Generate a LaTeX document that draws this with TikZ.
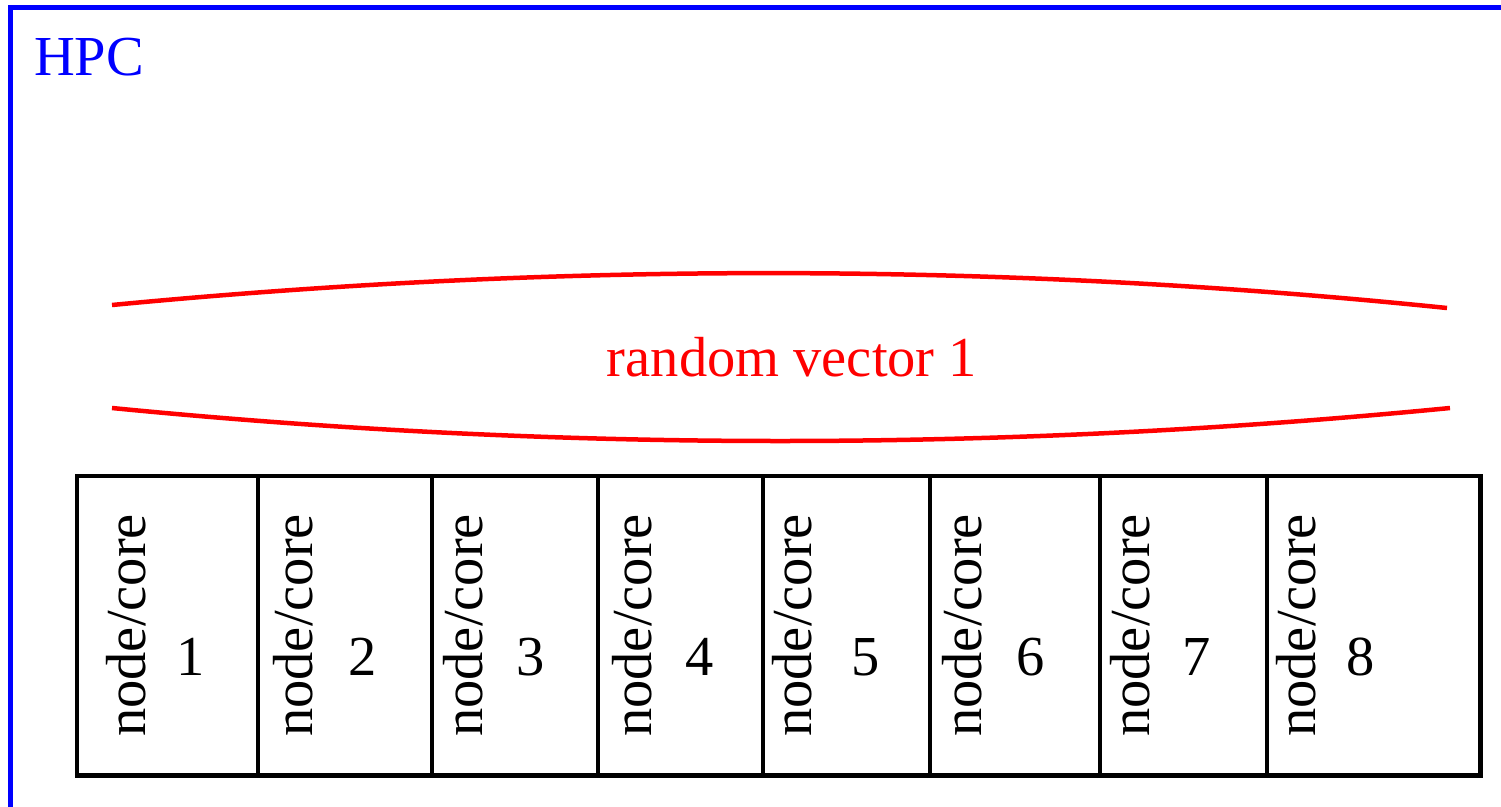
\documentclass[tikz,border=0pt]{standalone}
\usepackage{fontspec}
\setmainfont{Liberation Serif}
\begin{document}
\begin{tikzpicture}[x=1pt,y=-1pt,
  lbl/.style={inner sep=0pt, font=\fontsize{56.5}{68}\selectfont},
  frame/.style={draw=blue, line width=4.5pt},
  brace/.style={draw=red, line width=4.5pt},
  cellline/.style={draw=black, line width=4.5pt}]
\useasboundingbox (0,0) rectangle (1501,806);
\clip (0,0) rectangle (1501,806);

% outer HPC frame (runs past the right and bottom edges)
\draw[frame] (10.5,840) -- (10.5,7.5) -- (1540,7.5);
\node[lbl, text=blue, anchor=base west] (hpc) at (34,75) {HPC};

% random vector lens
\draw[brace] (112,305) .. controls (560,262) and (1000,262) .. (1447,308);
\draw[brace] (112,408) .. controls (560,452) and (1000,452) .. (1450,408);
\node[lbl, text=red, anchor=base] (rv) at (792,376) {random vector 1};

% row of node/core cells
\draw[cellline] (77,476) rectangle (1480.5,775.5);
\foreach \x in {258,432,598,763,930,1100,1267}
  \draw[cellline] (\x,476) -- (\x,775.5);

\foreach \i/\tb/\nc in {1/145/191, 2/312/363, 3/482/531, 4/651/700,
                        5/811/866, 6/981/1031, 7/1149/1197, 8/1315/1361} {
  \node[lbl, rotate=90, anchor=base west] (t\i) at (\tb,737) {node/core};
  \node[lbl, anchor=base] (n\i) at (\nc,675) {\i};
}
\end{tikzpicture}
\end{document}
